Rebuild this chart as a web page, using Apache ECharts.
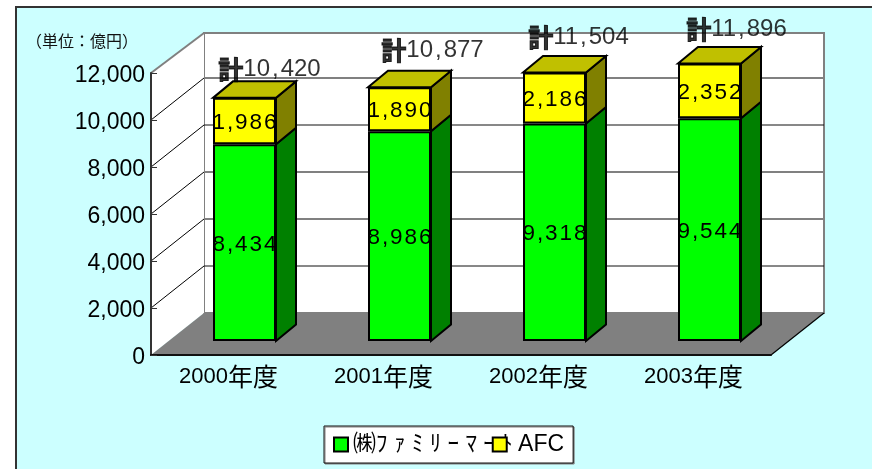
<!DOCTYPE html>
<html>
<head>
<meta charset="utf-8">
<style>
  html, body { margin: 0; padding: 0; background: #fff; overflow: hidden; }
  #frame { position: absolute; left: 15px; top: 6px; width: 900px; height: 500px; background: #ccffff; border-left: 2px solid #333; border-top: 2px solid #333; }
  #chart { position: absolute; left: 0; top: 0; width: 872px; height: 469px; }
</style>
<script src="https://cdn.jsdelivr.net/npm/echarts@6/dist/echarts.min.js"></script>
</head>
<body>
<div id="frame"></div>
<div id="chart"></div>
<script>
var categories = ['2000年度', '2001年度', '2002年度', '2003年度']
var familyMart = [8434, 8986, 9318, 9544]
var afc = [1986, 1890, 2186, 2352]
var totals = [10420, 10877, 11504, 11896]
var yTicks = [0, 2000, 4000, 6000, 8000, 10000, 12000]

var FONT = '"Liberation Sans", "Noto Sans CJK JP", sans-serif'
var CJK = '"Noto Sans CJK JP", sans-serif'
// depth of the box and of the bars, in px
var boxDx = 53, boxDy = 42
var barDx = 20, barDy = 16.5
var barWidth = 63
// hand placed labels in the reference, each one sits a bit differently
var totalOffsets = [[25, -28], [33, -37], [24, -35], [27, -34]]

function num(v) {
  return String(v).replace(/\B(?=(\d{3})+$)/g, ',')
}
// the original stretches the digits out
function spaced(v) {
  return num(v).split('').join('\u200a')
}
function spacedTotal(v) {
  return num(v).replace(',', '\u200a,\u200a')
}

function renderWalls(params, api) {
  var box = params.coordSys
  var left = box.x, right = box.x + box.width
  var top = api.coord([0, 12000])[1], bottom = api.coord([0, 0])[1]
  var kids = [
    // back wall
    { type: 'polygon', shape: { points: [[left + boxDx, top - boxDy + 2], [right + boxDx, top - boxDy + 2], [right + boxDx, bottom - boxDy], [left + boxDx, bottom - boxDy]] },
      style: { fill: '#fff', stroke: '#808080', lineWidth: 2 } },
    // left wall
    { type: 'polygon', shape: { points: [[left, top], [left + boxDx, top - boxDy + 2], [left + boxDx, bottom - boxDy], [left, bottom]] },
      style: { fill: '#fff', stroke: null } },
    // floor
    { type: 'polygon', shape: { points: [[left, bottom], [left + boxDx, bottom - boxDy], [right + boxDx, bottom - boxDy], [right, bottom]] },
      style: { fill: '#808080', stroke: null } },
    { type: 'line', shape: { x1: right, y1: bottom, x2: right + boxDx, y2: bottom - boxDy }, style: { stroke: '#000', lineWidth: 1.2 } },
    { type: 'line', shape: { x1: left, y1: top, x2: left + boxDx, y2: top - boxDy + 2 }, style: { stroke: '#808080', lineWidth: 2 } }
  ]
  yTicks.forEach(function (t, i) {
    if (t === 0 || t === 12000) return
    var y = api.coord([0, t])[1]
    kids.push({ type: 'line', shape: { x1: left, y1: y, x2: left + boxDx, y2: y - boxDy }, style: { stroke: '#000', lineWidth: 1 } })
    // some grid lines came out black, some gray in the original
    var black = t === 2000 || t === 8000
    kids.push({ type: 'line', shape: { x1: left + boxDx, y1: y - boxDy, x2: right + boxDx, y2: y - boxDy },
      style: { stroke: black ? '#111' : '#808080', lineWidth: black ? 1 : 2 } })
  })
  return { type: 'group', silent: true, children: kids }
}

function renderSide(params, api) {
  var i = api.value(0)
  var lo = api.coord([i, api.value(1)])
  var hi = api.coord([i, api.value(2)])
  var xr = lo[0] + barWidth / 2, xl = lo[0] - barWidth / 2
  var isTop = api.value(3) === 1
  var kids = [{
    type: 'polygon',
    shape: { points: [[xr, lo[1]], [xr + barDx, lo[1] - barDy], [xr + barDx, hi[1] - barDy], [xr, hi[1]]] },
    style: { fill: isTop ? '#808000' : '#008000', stroke: '#000', lineWidth: 2 }
  }]
  if (isTop) {
    kids.push({
      type: 'polygon',
      shape: { points: [[xl, hi[1]], [xl + barDx, hi[1] - barDy], [xr + barDx, hi[1] - barDy], [xr, hi[1]]] },
      style: { fill: '#c0c000', stroke: '#000', lineWidth: 2 }
    })
  }
  return { type: 'group', silent: true, children: kids }
}

var sideData = []
categories.forEach(function (c, i) {
  sideData.push([i, 0, familyMart[i], 0])
  sideData.push([i, familyMart[i], familyMart[i] + afc[i], 1])
})

var barLabel = {
  show: true,
  position: 'inside',
  offset: [0, 2],
  color: '#000',
  fontFamily: FONT,
  fontSize: 22.5,
  formatter: function (p) { return spaced(p.value) }
}

var chart = echarts.init(document.getElementById('chart'))
chart.setOption({
  animation: false,
  title: {
    text: '（単位：億円）',
    left: 26,
    padding: 0,
    top: 33,
    textStyle: { fontFamily: CJK, fontSize: 16, fontWeight: 'normal', color: '#111' }
  },
  legend: {
    data: ['㈱ファミリーマート', 'AFC'],
    left: 324,
    top: 426,
    padding: [7, 9, 7, 9],
    itemGap: -21,
    itemWidth: 14,
    itemHeight: 14,
    icon: 'rect',
    selectedMode: false,
    backgroundColor: '#fff',
    borderColor: '#111',
    borderWidth: 1,
    shadowColor: '#808080',
    shadowOffsetX: 1,
    shadowOffsetY: 1,
    textStyle: { fontFamily: FONT, fontSize: 23, color: '#000' },
    formatter: function (name) {
      return name === 'AFC' ? ' ' + name : '㈱ﾌ ｧ ﾐ ﾘ ｰ ﾏ ｰ ﾄ'
    }
  },
  grid: [
    { left: 151, top: 73, width: 620, height: 282 },
    { left: 167, top: 61, width: 620, height: 280 }
  ],
  xAxis: [
    {
      type: 'category', gridIndex: 0, data: categories, z: 3,
      axisLine: { lineStyle: { color: '#111', width: 2 } },
      axisTick: { inside: true, length: 6, lineStyle: { color: '#111' } },
      axisLabel: {
        margin: 9,
        formatter: function (v) { return '{d|' + v.slice(0, 4) + '}{c|' + v.slice(4) + '}' },
        rich: {
          d: { fontFamily: FONT, fontSize: 22, color: '#000' },
          c: { fontFamily: CJK, fontSize: 25, color: '#000' }
        }
      }
    },
    { type: 'category', gridIndex: 1, data: categories, show: false }
  ],
  yAxis: [
    {
      type: 'value', gridIndex: 0, min: 0, max: 12000, interval: 2000, z: 3,
      splitLine: { show: false },
      axisLine: { show: true, lineStyle: { color: '#333', width: 2 } },
      axisTick: { show: true, inside: true, length: 6, lineStyle: { color: '#333' } },
      axisLabel: { fontFamily: FONT, fontSize: 23, color: '#000', margin: 6, verticalAlign: 'top', lineHeight: 6 }
    },
    { type: 'value', gridIndex: 1, min: 0, max: 12000, interval: 2000, show: false }
  ],
  series: [
    {
      name: 'walls', type: 'custom', xAxisIndex: 0, yAxisIndex: 0, z: 1,
      data: [[0, 0]], renderItem: renderWalls, silent: true
    },
    {
      name: 'sides', type: 'custom', xAxisIndex: 1, yAxisIndex: 1, z: 4,
      data: sideData, encode: { x: 0, y: [1, 2] }, renderItem: renderSide, silent: true
    },
    {
      name: '㈱ファミリーマート', type: 'bar', stack: 'sales', xAxisIndex: 1, yAxisIndex: 1, z: 5,
      data: familyMart, barWidth: barWidth,
      itemStyle: { color: '#00ff00', borderColor: '#000', borderWidth: 2 },
      label: barLabel
    },
    {
      name: 'AFC', type: 'bar', stack: 'sales', xAxisIndex: 1, yAxisIndex: 1, z: 5,
      data: afc, barWidth: barWidth,
      itemStyle: { color: '#ffff00', borderColor: '#000', borderWidth: 2 },
      label: barLabel
    },
    {
      name: 'total', type: 'scatter', xAxisIndex: 1, yAxisIndex: 1, z: 6, symbolSize: 0, silent: true,
      data: totals.map(function (v, i) {
        return { value: [i, v], label: { offset: totalOffsets[i] } }
      }),
      label: {
        show: true,
        position: 'inside',
        formatter: function (p) { return '{k|計}{v|' + spacedTotal(p.value[1]) + '}' },
        rich: {
          // the bold face alone is too light next to the reference
          k: { fontFamily: CJK, fontWeight: 'bold', fontSize: 25, color: '#000', textBorderColor: '#000', textBorderWidth: 1 },
          v: { fontFamily: FONT, fontSize: 24, color: '#000' }
        }
      }
    }
  ]
})
</script>
</body>
</html>
